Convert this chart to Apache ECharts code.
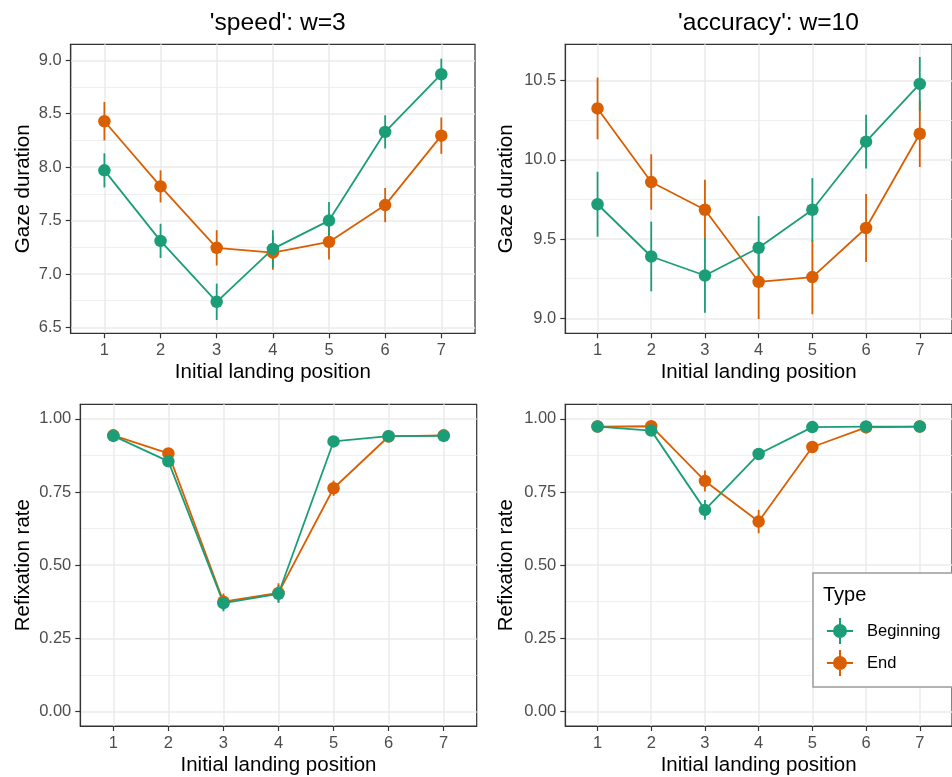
<!DOCTYPE html>
<html>
<head>
<meta charset="utf-8">
<script src="https://cdn.jsdelivr.net/npm/echarts@6/dist/echarts.min.js"></script>
<style>
html,body{margin:0;padding:0;background:#fff;}
#chart{width:952px;height:777px;}
</style>
</head>
<body>
<div id="chart"></div>
<script>
// ---------- data ----------
const positions = [1, 2, 3, 4, 5, 6, 7];
const xTicks = [1, 2, 3, 4, 5, 6, 7];
const typeNames = ['Beginning', 'End'];
const panelTitles = ["'speed': w=3", "'accuracy': w=10"];

// 'speed' gaze duration
const speedGazeBeg    = [7.97, 7.31, 6.74, 7.235, 7.50, 8.33, 8.87];
const speedGazeBegErr = [0.16, 0.16, 0.17, 0.175, 0.175, 0.155, 0.145];
const speedGazeEnd    = [8.43, 7.82, 7.245, 7.20, 7.30, 7.645, 8.295];
const speedGazeEndErr = [0.18, 0.15, 0.165, 0.16, 0.165, 0.16, 0.17];

// 'accuracy' gaze duration
const accGazeBeg    = [9.72, 9.39, 9.27, 9.445, 9.685, 10.115, 10.48];
const accGazeBegErr = [0.205, 0.22, 0.235, 0.20, 0.20, 0.17, 0.17];
const accGazeEnd    = [10.325, 9.86, 9.685, 9.23, 9.26, 9.57, 10.165];
const accGazeEndErr = [0.195, 0.175, 0.19, 0.235, 0.235, 0.215, 0.21];

// 'speed' refixation rate
const speedRefBeg    = [0.942, 0.855, 0.370, 0.402, 0.923, 0.941, 0.942];
const speedRefBegErr = [0.008, 0.012, 0.028, 0.030, 0.010, 0.008, 0.008];
const speedRefEnd    = [0.944, 0.882, 0.375, 0.405, 0.763, 0.940, 0.944];
const speedRefEndErr = [0.008, 0.012, 0.028, 0.033, 0.026, 0.008, 0.008];

// 'accuracy' refixation rate
const accRefBeg    = [0.974, 0.960, 0.689, 0.880, 0.972, 0.974, 0.974];
const accRefBegErr = [0.006, 0.008, 0.034, 0.012, 0.006, 0.006, 0.006];
const accRefEnd    = [0.974, 0.975, 0.788, 0.649, 0.904, 0.971, 0.974];
const accRefEndErr = [0.006, 0.006, 0.036, 0.040, 0.013, 0.006, 0.006];

// tick labels
const speedGazeTicks = [6.5, 7.0, 7.5, 8.0, 8.5, 9.0];
const speedGazeMinor = [6.75, 7.25, 7.75, 8.25, 8.75];
const accGazeTicks = [9.0, 9.5, 10.0, 10.5];
const accGazeMinor = [9.25, 9.75, 10.25];
const refTicks = [0.00, 0.25, 0.50, 0.75, 1.00];
const refMinor = [0.125, 0.375, 0.625, 0.875];

// ---------- layout / style ----------
const FONT = "'Liberation Sans', Arial, Helvetica, sans-serif";
const COLORS = { Beginning: '#1B9E77', End: '#D95F02' };
const GRID_COLOR = '#EBEBEB';
const AXIS_COLOR = '#333333';

const panels = [
  { grid: { left: 70.7, top: 44.3, width: 404.3, height: 289 }, min: 6.445, max: 9.15,
    ticks: speedGazeTicks, minor: speedGazeMinor, dec: 1, yName: 'Gaze duration', nameGap: 37,
    beg: speedGazeBeg, begErr: speedGazeBegErr, end: speedGazeEnd, endErr: speedGazeEndErr },
  { grid: { left: 565.3, top: 44.3, width: 396.7, height: 289 }, min: 8.905, max: 10.73,
    ticks: accGazeTicks, minor: accGazeMinor, dec: 1, yName: 'Gaze duration', nameGap: 48,
    beg: accGazeBeg, begErr: accGazeBegErr, end: accGazeEnd, endErr: accGazeEndErr },
  { grid: { left: 80.3, top: 404.3, width: 396.4, height: 322.4 }, min: -0.05, max: 1.05,
    ticks: refTicks, minor: refMinor, dec: 2, yName: 'Refixation rate', nameGap: 46,
    beg: speedRefBeg, begErr: speedRefBegErr, end: speedRefEnd, endErr: speedRefEndErr },
  { grid: { left: 565.3, top: 404.3, width: 396.7, height: 322.4 }, min: -0.05, max: 1.05,
    ticks: refTicks, minor: refMinor, dec: 2, yName: 'Refixation rate', nameGap: 48,
    beg: accRefBeg, begErr: accRefBegErr, end: accRefEnd, endErr: accRefEndErr }
];

const grids = [], xAxes = [], yAxes = [], series = [];

panels.forEach((p, i) => {
  grids.push(Object.assign({ show: true, borderColor: AXIS_COLOR, borderWidth: 1.2, backgroundColor: '#ffffff' }, p.grid));
  xAxes.push({
    type: 'value', gridIndex: i, min: 0.4, max: 7.6, position: 'bottom',
    axisLine: { show: true, onZero: false, lineStyle: { color: AXIS_COLOR, width: 1.2 } },
    axisTick: { show: true, inside: false, length: 5, customValues: xTicks, lineStyle: { color: AXIS_COLOR, width: 1.2 } },
    axisLabel: { customValues: xTicks, color: '#4D4D4D', fontSize: 16.5, fontFamily: FONT, margin: 9 },
    splitLine: { show: true, lineStyle: { color: GRID_COLOR, width: 1.5 } },
    name: 'Initial landing position', nameLocation: 'middle', nameGap: 29,
    nameTextStyle: { color: '#000', fontSize: 20.5, fontFamily: FONT }
  });
  // major y axis
  yAxes.push({
    type: 'value', gridIndex: i, min: p.min, max: p.max, position: 'left',
    axisLine: { show: true, onZero: false, lineStyle: { color: AXIS_COLOR, width: 1.2 } },
    axisTick: { show: true, inside: false, length: 5, customValues: p.ticks, lineStyle: { color: AXIS_COLOR, width: 1.2 } },
    axisLabel: { customValues: p.ticks, color: '#4D4D4D', fontSize: 16.5, fontFamily: FONT, margin: 9,
      formatter: (v) => Number(v).toFixed(p.dec) },
    splitLine: { show: true, lineStyle: { color: GRID_COLOR, width: 1.5 } },
    name: p.yName, nameLocation: 'middle', nameGap: p.nameGap, nameRotate: 90,
    nameTextStyle: { color: '#000', fontSize: 20.5, fontFamily: FONT }
  });
  // minor grid lines
  yAxes.push({
    type: 'value', gridIndex: i, min: p.min, max: p.max, position: 'left',
    axisLine: { show: false, onZero: false },
    axisTick: { show: false, customValues: p.minor },
    axisLabel: { show: false, customValues: p.minor },
    splitLine: { show: true, lineStyle: { color: GRID_COLOR, width: 0.8 } }
  });

  const yIdx = 2 * i;
  const groups = [
    { name: 'End', vals: p.end, err: p.endErr },
    { name: 'Beginning', vals: p.beg, err: p.begErr }
  ];
  groups.forEach(g => {
    const col = COLORS[g.name];
    series.push({
      type: 'line', name: g.name, xAxisIndex: i, yAxisIndex: yIdx, z: 2,
      showSymbol: false, symbol: 'none', silent: true,
      itemStyle: { color: col }, lineStyle: { color: col, width: 1.8 },
      data: positions.map((x, k) => [x, g.vals[k]])
    });
  });
  groups.forEach(g => {
    const col = COLORS[g.name];
    series.push({
      type: 'custom', name: g.name, xAxisIndex: i, yAxisIndex: yIdx, z: 3, silent: true,
      itemStyle: { color: col },
      encode: { x: 0, y: [1, 2] },
      renderItem: (params, api) => {
        const x = api.value(0);
        const a = api.coord([x, api.value(1)]);
        const b = api.coord([x, api.value(2)]);
        return { type: 'line', shape: { x1: a[0], y1: a[1], x2: b[0], y2: b[1] },
                 style: { stroke: col, lineWidth: 1.8 } };
      },
      data: positions.map((x, k) => [x, g.vals[k] - g.err[k], g.vals[k] + g.err[k]])
    });
  });
  groups.forEach(g => {
    const col = COLORS[g.name];
    series.push({
      type: 'scatter', name: g.name, xAxisIndex: i, yAxisIndex: yIdx, z: 4, silent: true,
      symbol: 'circle', symbolSize: 12.5,
      itemStyle: { color: col, opacity: 1 },
      data: positions.map((x, k) => [x, g.vals[k]])
    });
  });
});

const keyIcon = 'path://M0,12H26V14H0Z M12,0H14V26H12Z M20,13A7,7,0,1,1,6,13A7,7,0,1,1,20,13Z';

const option = {
  animation: false,
  backgroundColor: '#ffffff',
  title: [
    { text: panelTitles[0], left: 272.8, top: 6, textAlign: 'center',
      textStyle: { fontSize: 24.6, fontWeight: 'normal', color: '#000', fontFamily: FONT } },
    { text: panelTitles[1], left: 763.5, top: 6, textAlign: 'center',
      textStyle: { fontSize: 24.6, fontWeight: 'normal', color: '#000', fontFamily: FONT } },
    { text: 'Type', left: 823, top: 585, padding: 0, z: 10,
      textStyle: { fontSize: 20, fontWeight: 'normal', color: '#000', fontFamily: FONT } }
  ],
  legend: {
    orient: 'vertical', left: 813, top: 573,
    padding: [45, 16, 11, 14],
    backgroundColor: '#ffffff', borderColor: '#9A9A9A', borderWidth: 1.5, borderRadius: 0,
    itemWidth: 26, itemHeight: 26, itemGap: 6, selectedMode: false,
    textStyle: { fontSize: 16.5, color: '#000', fontFamily: FONT, padding: [0, 0, 0, 9] },
    data: typeNames.map(n => ({ name: n, icon: keyIcon }))
  },
  grid: grids,
  xAxis: xAxes,
  yAxis: yAxes,
  series: series
};

const chart = echarts.init(document.getElementById('chart'), null, { renderer: 'canvas' });
chart.setOption(option);
</script>
</body>
</html>
